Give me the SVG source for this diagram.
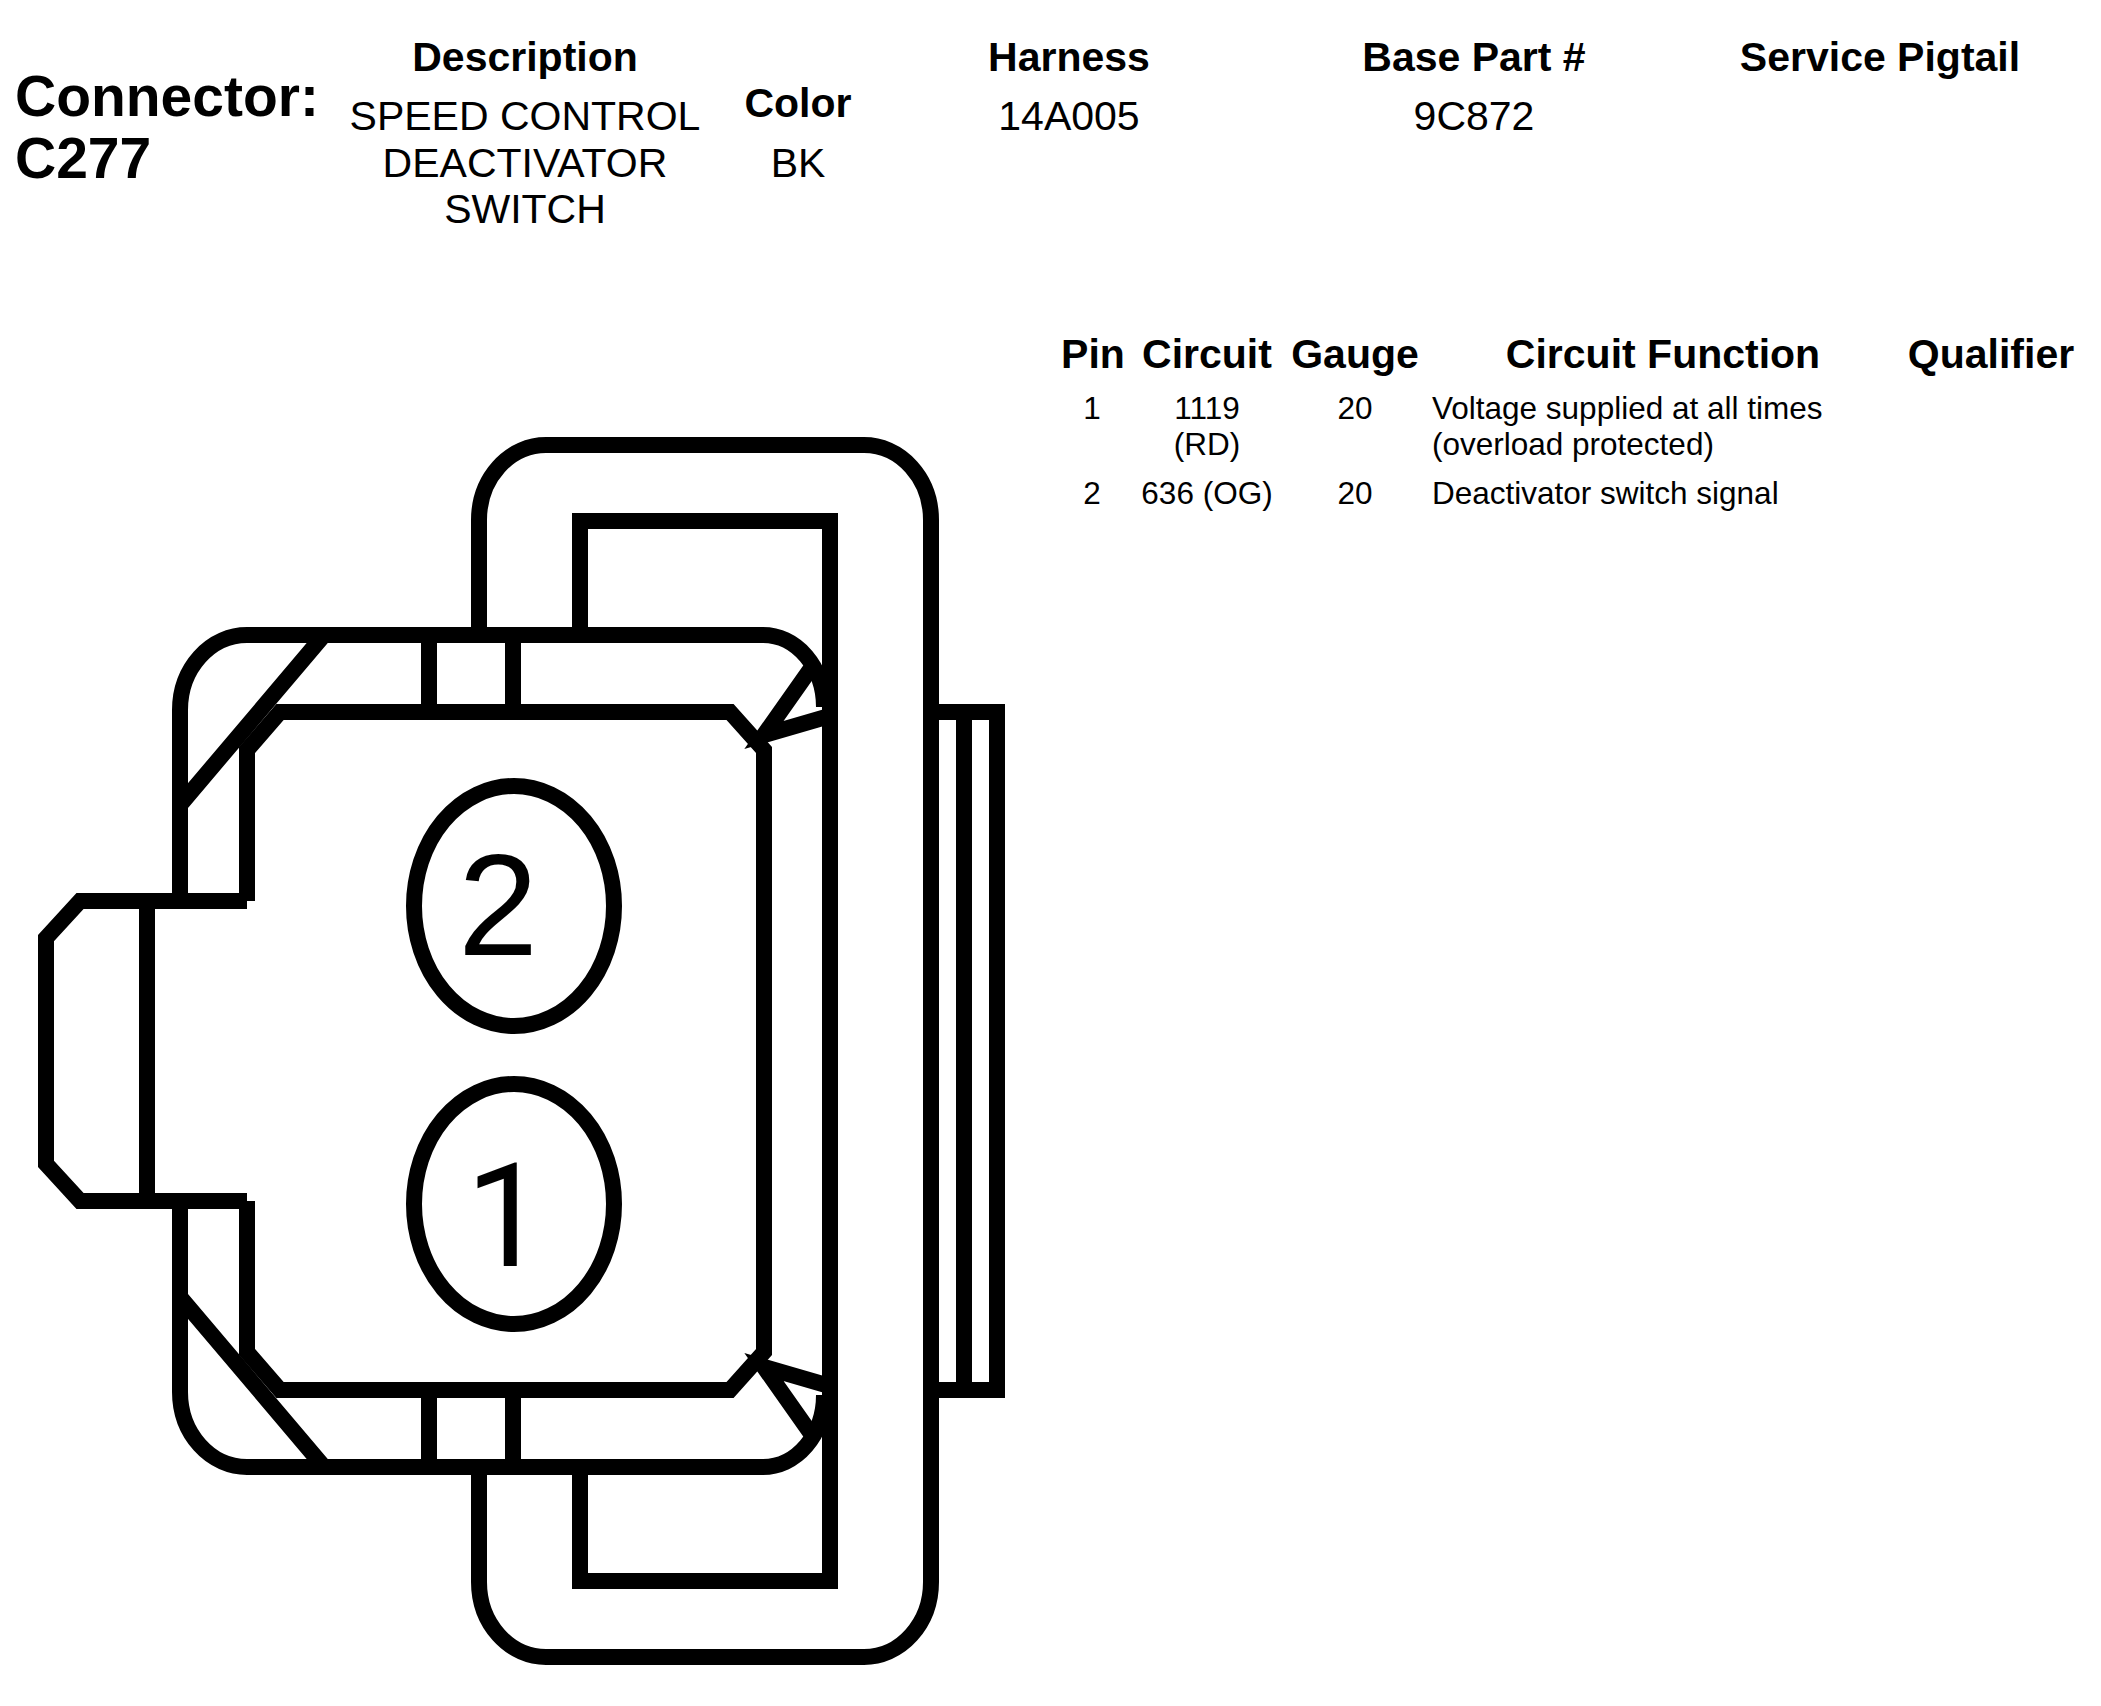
<svg xmlns="http://www.w3.org/2000/svg" width="2101" height="1706" viewBox="0 0 2101 1706">
<style>
.ln{fill:none;stroke:#000;stroke-width:16;stroke-linejoin:miter;stroke-linecap:butt}
.t{font-family:"Liberation Sans",Arial,sans-serif;fill:#000}
.hb{font-size:41px;font-weight:bold;text-anchor:middle}
.hv{font-size:41px;text-anchor:middle}
.big{font-size:57px;font-weight:bold}
.r{font-size:31.5px}
.m{text-anchor:middle}
.pin{font-size:144px;text-anchor:middle}
.pin1{font-family:Roboto,"Liberation Sans",Arial,sans-serif;font-size:144px;text-anchor:middle;fill:#000}
</style>
<rect width="2101" height="1706" fill="#fff"/>
<g id="header" class="t">
<text class="big" x="15" y="116">Connector:</text>
<text class="big" x="15" y="178">C277</text>
<text class="hb" x="525" y="71">Description</text>
<text class="hv" x="525" y="130">SPEED CONTROL</text>
<text class="hv" x="525" y="177">DEACTIVATOR</text>
<text class="hv" x="525" y="223">SWITCH</text>
<text class="hb" x="798" y="117">Color</text>
<text class="hv" x="798" y="177">BK</text>
<text class="hb" x="1069" y="71">Harness</text>
<text class="hv" x="1069" y="130">14A005</text>
<text class="hb" x="1474" y="71">Base Part #</text>
<text class="hv" x="1474" y="130">9C872</text>
<text class="hb" x="1880" y="71">Service Pigtail</text>
</g>
<g id="pin-table" class="t">
<text class="hb" x="1093" y="368">Pin</text>
<text class="hb" x="1207" y="368">Circuit</text>
<text class="hb" x="1355" y="368">Gauge</text>
<text class="hb" x="1663" y="368">Circuit Function</text>
<text class="hb" x="1991" y="368">Qualifier</text>
<g id="row-1">
<text class="r m" x="1092" y="419">1</text>
<text class="r m" x="1207" y="419">1119</text>
<text class="r m" x="1207" y="455">(RD)</text>
<text class="r m" x="1355" y="419">20</text>
<text class="r" x="1432" y="419">Voltage supplied at all times</text>
<text class="r" x="1432" y="455">(overload protected)</text>
</g>
<g id="row-2">
<text class="r m" x="1092" y="504">2</text>
<text class="r m" x="1207" y="504">636 (OG)</text>
<text class="r m" x="1355" y="504">20</text>
<text class="r" x="1432" y="504">Deactivator switch signal</text>
</g>
</g>
<g id="connector">
<g id="outer-loop">
<path class="ln" d="M479,635 V520 A67,75 0 0 1 546,445 H864 A67,75 0 0 1 931,520 V1582 A67,75 0 0 1 864,1657 H546 A67,75 0 0 1 479,1582 V1467"/>
<path class="ln" d="M580,635 V521 H830 V1581 H580 V1467"/>
</g>
<g id="body">
<path class="ln" d="M180,901 V710 A67,75 0 0 1 247,635 H763 A61,72 0 0 1 824,707"/>
<path class="ln" d="M824,1395 A61,72 0 0 1 763,1467 H247 A67,75 0 0 1 180,1392 V1201"/>
<path class="ln" d="M324,635 L180,805 M180,1297 L324,1467"/>
<path class="ln" d="M429,635 V712 M513,635 V712 M429,1390 V1467 M513,1390 V1467"/>
<path class="ln" d="M247,901 V750 L280,712 H730 L764,750 V1352 L730,1390 H280 L247,1352 V1201"/>
<path class="ln" d="M814,664 L764,735 L826,717 M814,1438 L764,1367 L826,1385"/>
</g>
<g id="left-tab">
<path class="ln" d="M247,901 H80 L46,938 V1164 L80,1201 H247"/>
<path class="ln" d="M147,901 V1201"/>
</g>
<g id="ribs">
<path class="ln" d="M931,712 H997 V1390 H931 M964,712 V1390"/>
</g>
<g id="pin-2">
<ellipse class="ln" cx="514" cy="906" rx="100" ry="120"/>
<text class="t pin" x="498" y="955">2</text>
</g>
<g id="pin-1">
<ellipse class="ln" cx="514" cy="1204" rx="100" ry="120"/>
<text class="pin1" x="506" y="1266">1</text>
</g>
</g>
</svg>
